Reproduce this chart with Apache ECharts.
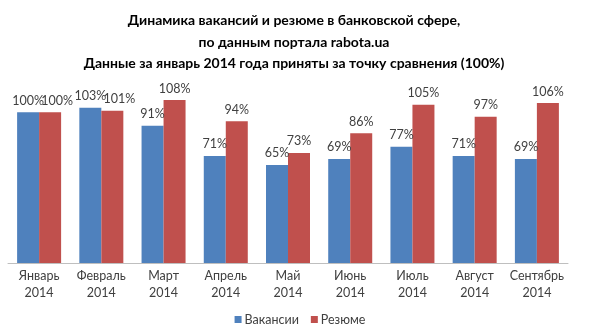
<!DOCTYPE html>
<html><head><meta charset="utf-8">
<script src="https://cdn.jsdelivr.net/npm/echarts@6/dist/echarts.min.js"></script>
<style>html,body{margin:0;padding:0;background:#fff}#c{width:600px;height:336px}</style>
</head><body><div id="c"></div>
<script>
const categories = ['Январь\n2014','Февраль\n2014','Март\n2014','Апрель\n2014','Май\n2014','Июнь\n2014','Июль\n2014','Август\n2014','Сентябрь\n2014'];
const vacancies = [100,103,91,71,65,69,77,71,69];
const resumes = [100,101,108,94,73,86,105,97,106];
const seriesNames = ['Вакансии','Резюме'];
const titleLines = ['Динамика вакансий и резюме в банковской сфере,','по данным портала rabota.ua','Данные за январь 2014 года приняты за точку сравнения (100%)'];

const font = 'Lato, "Open Sans", sans-serif';
const chart = echarts.init(document.getElementById('c'));
const lbl = {show:true, position:'top', distance:5, formatter:'{c}%', color:'#404040', fontSize:12.5, fontFamily:font};
// shift red labels right where they would collide with blue ones (as Excel does)
const resumeData = resumes.map((v,i) => Math.abs(v - vacancies[i]) < 5 ? {value:v, label:{offset:[7,0]}} : v);
chart.setOption({
  animation:false,
  title:{text:titleLines.join('\n'), left:289, top:5, textAlign:'center',
    textStyle:{fontSize:14, fontWeight:'bold', color:'#000', fontFamily:font, lineHeight:21.5}},
  legend:{bottom:5, left:'center', itemWidth:7, itemHeight:7, itemGap:12, icon:'rect',
    textStyle:{fontSize:12.5, color:'#404040', fontFamily:font, padding:[0,0,0,-2]}},
  grid:{left:8, right:32, top:82, bottom:73},
  xAxis:{type:'category', data:categories,
    axisLine:{lineStyle:{color:'#BFBFBF'}}, axisTick:{show:false},
    axisLabel:{color:'#404040', fontSize:12.5, fontFamily:font, lineHeight:17, margin:4, interval:0}},
  yAxis:{type:'value', min:0, max:120, show:false, splitLine:{show:false}},
  series:[
    {name:seriesNames[0], type:'bar', data:vacancies, barWidth:22, barGap:'0%', itemStyle:{color:'#4F81BD'}, label:lbl},
    {name:seriesNames[1], type:'bar', data:resumeData, barWidth:22, itemStyle:{color:'#C0504D'}, label:lbl}
  ]
});
</script></body></html>
